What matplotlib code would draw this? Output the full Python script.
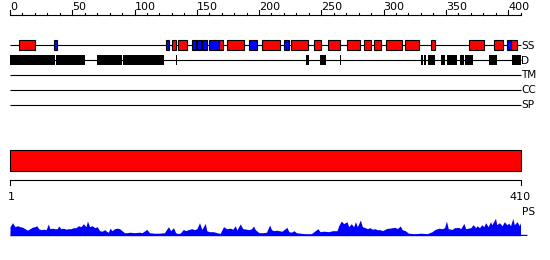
import matplotlib
matplotlib.use('Agg')
import matplotlib.pyplot as plt
from matplotlib.patches import Rectangle

seq_length = 410

# secondary structure: helices (red) and strands (blue), residue ranges
ss_helix = [(7, 20), (130, 133), (135, 142), (168, 171), (174, 188), (202, 216.5),
            (226, 239), (244, 250), (255, 265), (271, 281), (284, 290), (292, 298),
            (302, 314.5), (317, 328.5), (338, 341), (369, 381), (388.5, 396), (402.5, 407)]
ss_strand = [(35, 38), (125, 128), (146, 149), (150, 153), (154, 158), (160, 168),
             (192, 198), (220, 224), (399, 402.5)]

# disorder segments
disorder = [(0, 36), (36.8, 60.3), (69.7, 89.8), (90.6, 123.6), (133.2, 134.2),
            (238, 240.4), (249.2, 254.1), (264.7, 265.9), (330.2, 331.5), (332.8, 334.3),
            (335.8, 341.7), (346.5, 349.7), (351.1, 359.1), (361.2, 364.4), (365.2, 372),
            (384.4, 391.3), (403, 410.3)]

track_labels = ['SS', 'D', 'TM', 'CC', 'SP']
ruler_ticks = list(range(0, 401, 50))

# PS profile (position, score)
ps_pos = [0, 2, 4, 6, 8, 10, 12, 14, 16, 18, 20, 21.5, 23, 25, 27, 29, 30.8, 32, 34, 36, 38,
          39, 41, 43, 45, 47, 49, 51, 53, 55, 57, 59, 61, 62.2, 64, 66, 68, 70, 72, 74, 76,
          78, 79, 80.4, 82, 84, 86, 88, 90, 92, 94, 96, 100, 104, 106, 109.9, 112, 116, 120,
          124, 127.3, 129, 131.3, 133, 135.3, 137, 139.3, 141, 143, 146, 148, 150.1, 152.2,
          154.1, 156.8, 158, 160, 163.5, 166, 168.8, 171.5, 174, 177, 179, 180.9, 182.2,
          184.9, 187, 190, 192, 194, 195.6, 197, 200, 203, 206, 208.5, 210, 212, 214, 216,
          218.4, 220, 222.4, 224, 226, 228, 230, 233, 237, 242, 247.3, 249, 252, 256, 259,
          262.6, 264, 266.1, 268, 270.7, 272, 274.1, 276, 277.4, 279, 281.4, 283, 285.4,
          287, 289, 291, 293, 295, 297.4, 299, 302.8, 305, 307, 309.5, 311, 313.5, 315,
          317.5, 320, 325, 330, 335, 339, 341, 344.4, 347, 349, 350.5, 352, 355.1, 357,
          360.4, 362, 364.5, 366, 368, 370, 372, 374, 375.2, 377, 379, 380.5, 382, 384,
          385.9, 387, 389.9, 391, 393, 395.3, 397, 399, 400.6, 402, 403.8, 405, 407.3, 409, 410]
ps_val = [9, 13, 9, 10, 9, 8.5, 7, 5.5, 7, 8.5, 9, 10, 7, 6, 6.5, 6, 11.7, 7, 7.5, 7, 7,
          9.7, 7, 7.5, 6.5, 7, 7, 8, 8, 10, 9, 12, 9, 14.7, 9, 10, 8, 9, 5, 4.5, 6,
          4, 3.5, 7.5, 5, 7, 7.5, 7, 5, 3, 3, 3.5, 3, 3.5, 3, 6.3, 3, 2.5, 2.5,
          3, 9, 5, 8, 3, 2, 3, 6.3, 5, 6, 7, 6, 7, 13,
          6.3, 12.3, 5, 4, 4, 3, 2.3, 9, 7, 7.5, 6.5, 10, 5.7,
          11.7, 7, 6.5, 6, 7, 9.7, 6, 3, 3, 3.5, 10.7, 6, 5, 5.5, 5,
          4.5, 6, 8.3, 4, 3.5, 5, 3, 2.5, 2, 2, 7, 4, 4.5, 4, 5,
          5, 10, 14.7, 12, 14, 9, 12, 9, 14, 9, 15.7, 9, 8,
          7, 8, 6.5, 7, 6, 6, 5, 7.3, 7.5, 8, 8.3, 7, 9.7, 6,
          5, 2.5, 2, 2.5, 2, 4, 6, 7.5, 7, 8, 14.7, 7, 6.3, 8,
          8.3, 7, 12.3, 7, 7.5, 8, 11, 8, 10, 8, 11, 9, 13, 9,
          14, 11, 17.3, 11, 13, 10, 14, 11, 12.5, 10, 17.3, 11, 14, 10, 13]

W, H = 550, 260
x0 = 10.0
scale = 510.5 / seq_length
xlim = (-x0 / scale, (W - x0) / scale)

fig = plt.figure(figsize=(W / 100, H / 100), dpi=100)
ax = fig.add_axes([0, 0, 1, 1])
ax.set_xlim(*xlim)
ax.set_ylim(H, 0)
ax.axis('off')

lw = 0.8
fs = 8

# top ruler
ax.plot([0, seq_length], [15, 15], color='black', lw=lw, solid_capstyle='butt')
for t in range(0, seq_length + 1, 10):
    top = 10 if t % 50 == 0 else 12.5
    ax.plot([t, t], [top, 15], color='black', lw=lw)
for t in ruler_ticks:
    ax.text(t, 10.5, str(t), ha='left', va='baseline', fontsize=fs, color='black')

# tracks
track_y = [45.3, 60.3, 75, 90, 105]
for y, lab in zip(track_y, track_labels):
    ax.plot([0, seq_length], [y, y], color='black', lw=lw, solid_capstyle='butt', zorder=1)
    ax.text(seq_length + 0.6, y + 0.3, lab, ha='left', va='center', fontsize=7.6, color='black')

for s, e in ss_helix:
    ax.add_patch(Rectangle((s, 40.2), e - s, 10.3, facecolor='#ff0000', edgecolor='black', lw=lw, zorder=2))
for s, e in ss_strand:
    ax.add_patch(Rectangle((s, 40.2), e - s, 10.3, facecolor='#0000ff', edgecolor='black', lw=lw, zorder=2))
for s, e in disorder:
    ax.add_patch(Rectangle((s, 55.2), e - s, 10.2, facecolor='black', edgecolor='none', zorder=2))

# domain bar
ax.add_patch(Rectangle((0, 150.2), seq_length, 20.3, facecolor='#ff0000', edgecolor='black', lw=lw, zorder=2))

# bottom ruler
ax.plot([0, seq_length], [180, 180], color='black', lw=lw, solid_capstyle='butt')
ax.plot([0, 0], [180, 185], color='black', lw=lw)
ax.plot([seq_length, seq_length], [180, 185], color='black', lw=lw)
ax.text(0.8, 200, '1', ha='center', va='baseline', fontsize=fs, color='black')
ax.text(seq_length, 200, str(seq_length), ha='center', va='baseline', fontsize=fs, color='black')
ax.text(seq_length + 1.2, 215, 'PS', ha='left', va='baseline', fontsize=7.6, color='black')

# PS profile
base_y = 235.7
ps_h = 21.0
ax_ps = fig.add_axes([0, (H - base_y) / H, 1, ps_h / H])
ax_ps.set_xlim(*xlim)
ax_ps.set_ylim(0, ps_h)
ax_ps.axis('off')
ax_ps.fill_between(ps_pos, ps_val, 0, color='#0000ff', lw=0)
ax_ps.plot([0, seq_length + 5.5], [0.3, 0.3], color='#0000ff', lw=1.0, solid_capstyle='butt')

fig.savefig('out.png', dpi=100)
